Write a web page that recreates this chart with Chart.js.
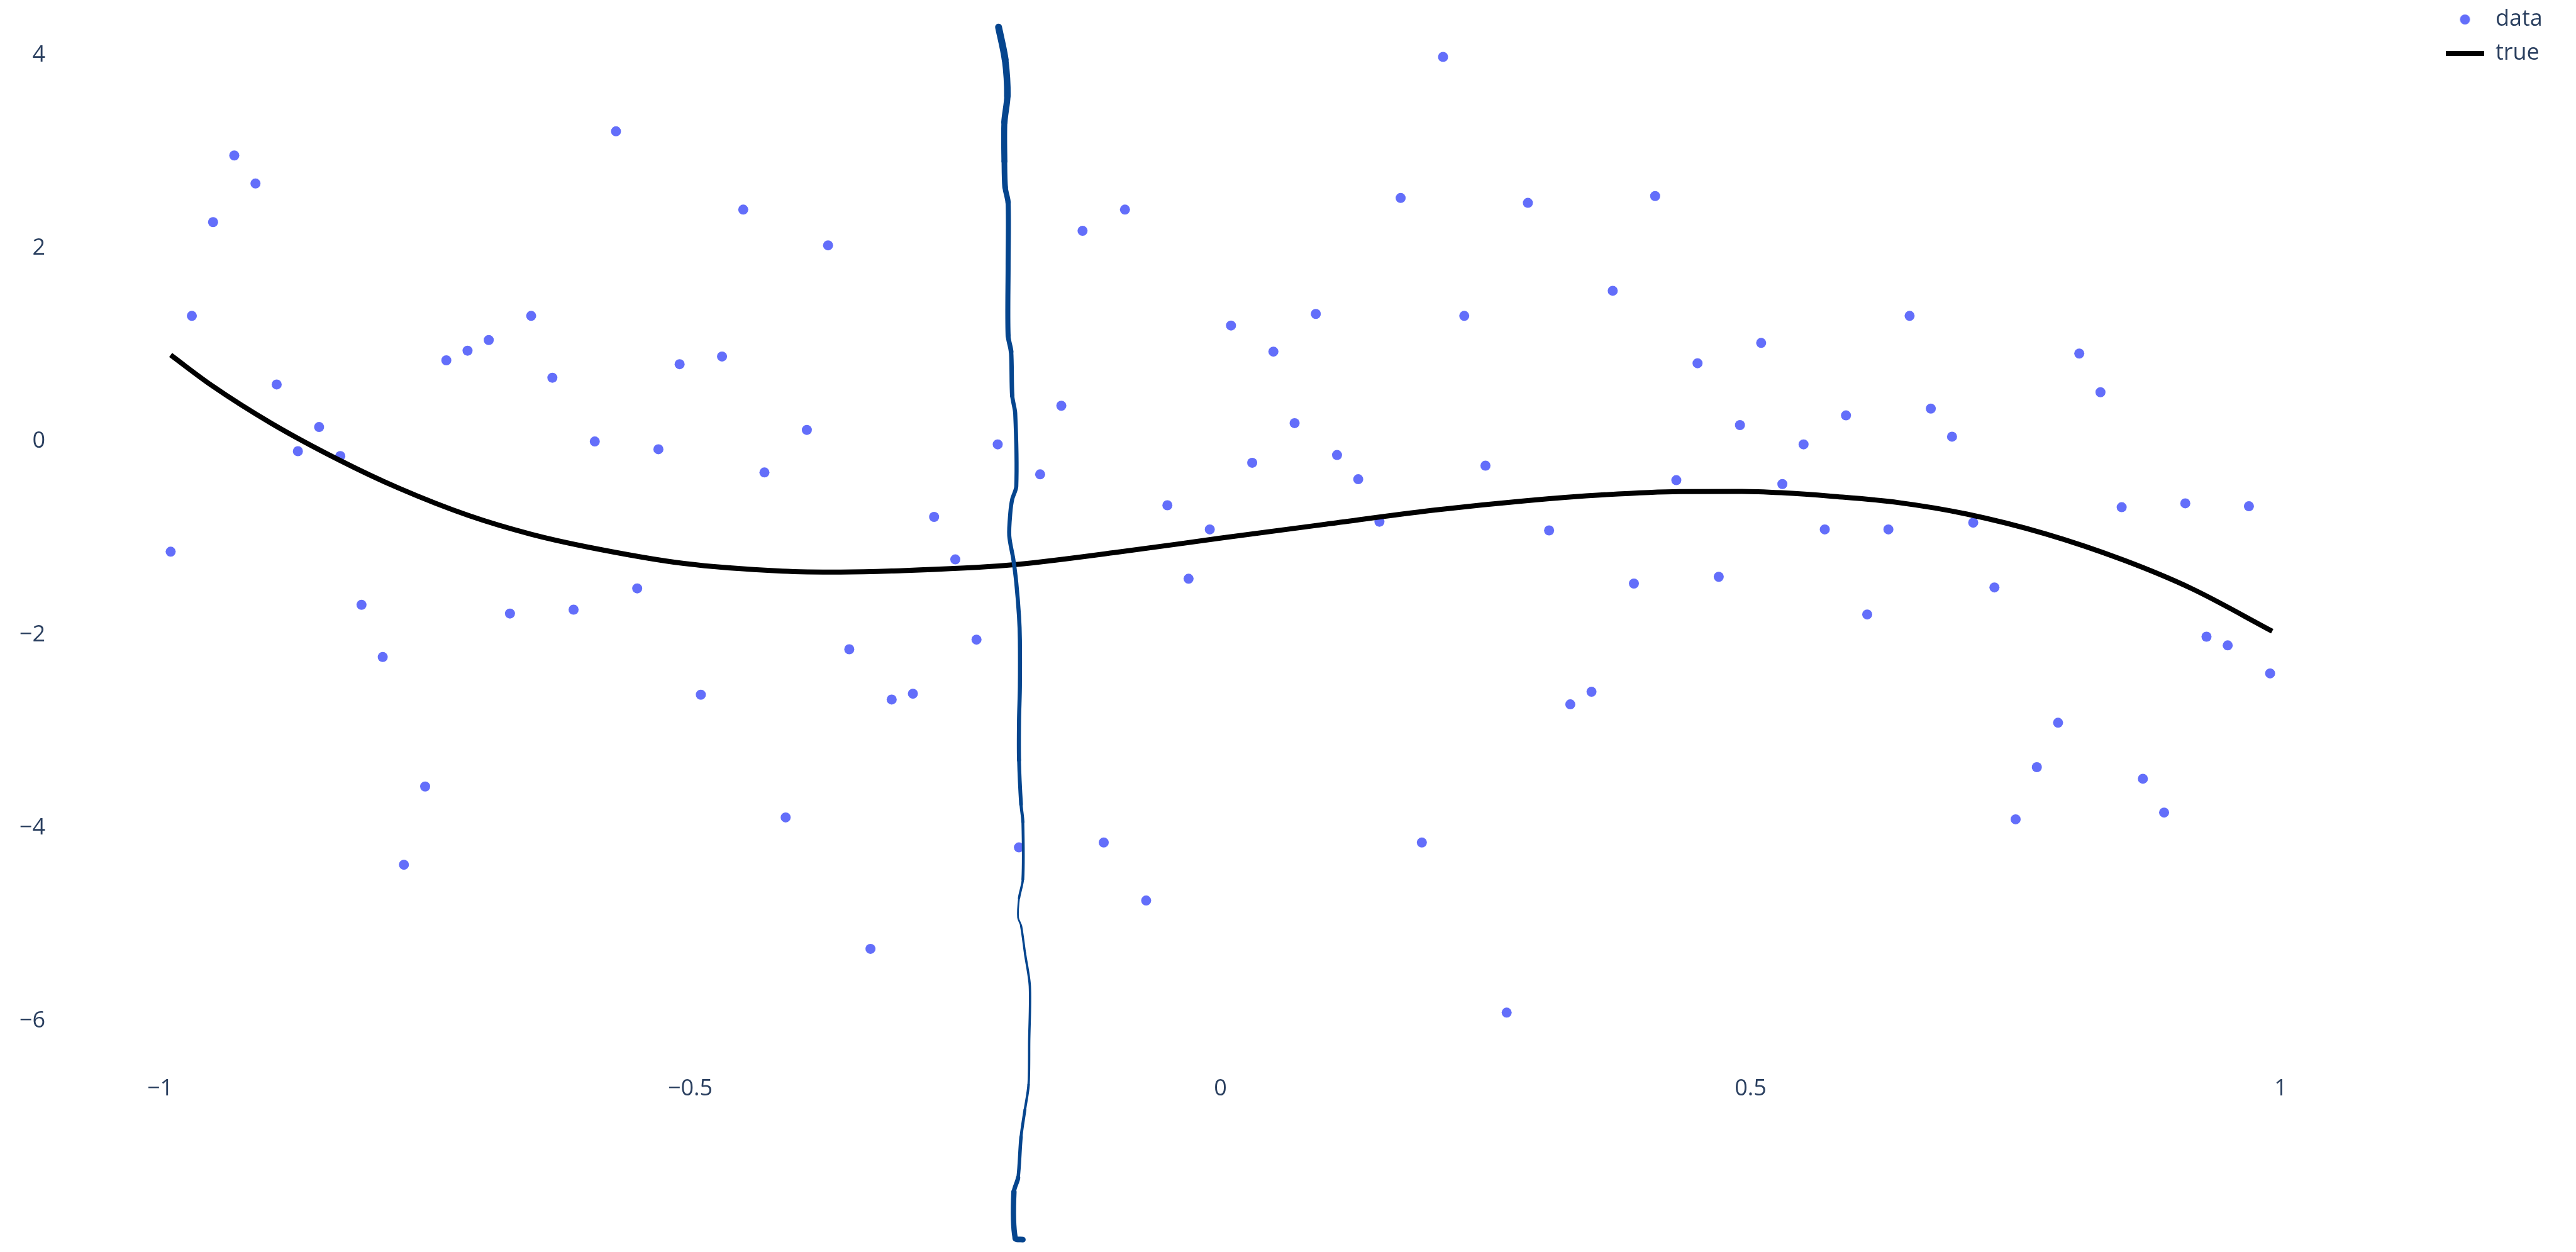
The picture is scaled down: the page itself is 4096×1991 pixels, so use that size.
<!DOCTYPE html>
<html>
<head>
<meta charset="utf-8">
<script src="https://cdn.jsdelivr.net/npm/chart.js@4.4.1/dist/chart.umd.min.js"></script>
<style>
  html, body { margin: 0; padding: 0; background: #fff; }
  #wrap { width: 4096px; height: 1991px; position: relative; }
</style>
</head>
<body>
<div id="wrap"><canvas id="chart"></canvas></div>
<script>
// noisy samples
const xData = [
  -0.99, -0.97, -0.95, -0.93, -0.91, -0.89, -0.87, -0.85, -0.83, -0.81,
  -0.79, -0.77, -0.75, -0.73, -0.71, -0.69, -0.67, -0.65, -0.63, -0.61,
  -0.59, -0.57, -0.55, -0.53, -0.51, -0.49, -0.47, -0.45, -0.43, -0.41,
  -0.39, -0.37, -0.35, -0.33, -0.31, -0.29, -0.27, -0.25, -0.23, -0.21,
  -0.19, -0.17, -0.15, -0.13, -0.11, -0.09, -0.07, -0.05, -0.03, -0.01,
  0.01, 0.03, 0.05, 0.07, 0.09, 0.11, 0.13, 0.15, 0.17, 0.19,
  0.21, 0.23, 0.25, 0.27, 0.29, 0.31, 0.33, 0.35, 0.37, 0.39,
  0.41, 0.43, 0.45, 0.47, 0.49, 0.51, 0.53, 0.55, 0.57, 0.59,
  0.61, 0.63, 0.65, 0.67, 0.69, 0.71, 0.73, 0.75, 0.77, 0.79,
  0.81, 0.83, 0.85, 0.87, 0.89, 0.91, 0.93, 0.95, 0.97, 0.99
];
const yData = [
  -1.14, 1.30, 2.27, 2.96, 2.67, 0.59, -0.10, 0.15, -0.15, -1.69,
  -2.23, -4.38, -3.57, 0.84, 0.94, 1.05, -1.78, 1.30, 0.66, -1.74,
  0.00, 3.21, -1.52, -0.08, 0.80, -2.62, 0.88, 2.40, -0.32, -3.89,
  0.12, 2.03, -2.15, -5.25, -2.67, -2.61, -0.78, -1.22, -2.05, -0.03,
  -4.20, -0.34, 0.37, 2.18, -4.15, 2.40, -4.75, -0.66, -1.42, -0.91,
  1.20, -0.22, 0.93, 0.19, 1.32, -0.14, -0.39, -0.83, 2.52, -4.15,
  3.98, 1.30, -0.25, -5.91, 2.47, -0.92, -2.72, -2.59, 1.56, -1.47,
  2.54, -0.40, 0.81, -1.40, 0.17, 1.02, -0.44, -0.03, -0.91, 0.27,
  -1.79, -0.91, 1.30, 0.34, 0.05, -0.84, -1.51, -3.91, -3.37, -2.91,
  0.91, 0.51, -0.68, -3.49, -3.84, -0.64, -2.02, -2.11, -0.67, -2.40
];

// underlying curve
const trueX = [-0.99, -0.951, -0.895, -0.831, -0.775, -0.709, -0.65, -0.598, -0.506, -0.413,
  -0.358, -0.31, -0.2, -0.1, 0, 0.1, 0.2, 0.2885, 0.3624, 0.4326,
  0.4918, 0.529, 0.577, 0.64, 0.704, 0.778, 0.852, 0.916, 0.992];
const trueY = [0.895, 0.578, 0.188, -0.192, -0.482, -0.766, -0.96, -1.089, -1.262, -1.341,
  -1.351, -1.340, -1.28, -1.15, -1.0, -0.855, -0.712, -0.612, -0.551, -0.518,
  -0.516, -0.53, -0.567, -0.633, -0.751, -0.955, -1.228, -1.522, -1.963];

// hand drawn stroke on top
const penX = [-0.2092, -0.2030, -0.2009, -0.2037, -0.2037, -0.2030, -0.2002, -0.2002, -0.2002, -0.1974,
  -0.1963, -0.1935, -0.1925, -0.1963, -0.1981, -0.1991, -0.1953, -0.1925, -0.1899, -0.1891,
  -0.1891, -0.1899, -0.1899, -0.1880, -0.1863, -0.1863, -0.1899, -0.1908, -0.1880, -0.1843,
  -0.1797, -0.1803, -0.1809, -0.1843, -0.1880, -0.1908, -0.1947, -0.1935, -0.1863];
const penY = [4.288, 3.951, 3.576, 3.304, 2.900, 2.631, 2.470, 1.824, 1.095, 0.931,
  0.472, 0.291, -0.464, -0.597, -0.736, -0.976, -1.218, -1.460, -1.810, -2.052,
  -2.541, -2.892, -3.296, -3.755, -3.936, -4.531, -4.726, -4.926, -5.010, -5.294,
  -5.638, -6.203, -6.657, -6.912, -7.196, -7.619, -7.763, -8.244, -8.259];
const penWidths = [11, 10.5, 10, 9.5, 9, 8.5, 8, 8, 7.5, 7,
  6.5, 6.5, 6.5, 6.5, 6.5, 6.5, 6.5, 6.5, 6.5, 6.5,
  6.5, 6.5, 6, 5, 4.5, 3.7, 2.8, 2.8, 3.5, 3.7,
  3.7, 3.7, 4, 4.7, 5.5, 7, 8.5, 9, 9];

const xTicks = [-1, -0.5, 0, 0.5, 1];
const yTicks = [-6, -4, -2, 0, 2, 4];

const textColor = '#2a3f5f';
const dotColor = '#636efa';
const fontFamily = "'Open Sans', sans-serif";

const toPoints = (xs, ys) => xs.map((x, i) => ({ x: x, y: ys[i] }));
const fmt = v => (v < 0 ? '\u2212' : '') + Math.abs(v);

// round marker for the legend (the line entry needs a wide box, circles would stretch)
const legendDot = document.createElement('canvas');
legendDot.width = 18;
legendDot.height = 18;
(function () {
    const c = legendDot.getContext('2d');
    c.fillStyle = dotColor;
    c.beginPath();
    c.arc(9, 9, 8, 0, Math.PI * 2);
    c.fill();
})();

const ctx = document.getElementById('chart').getContext('2d');

new Chart(ctx, {
    type: 'scatter',
    data: {
        datasets: [
            {
                label: 'data',
                data: toPoints(xData, yData),
                backgroundColor: dotColor,
                pointBackgroundColor: dotColor,
                pointBorderWidth: 0,
                pointRadius: 8,
                pointHoverRadius: 8,
                pointStyle: 'circle',
                order: 1
            },
            {
                label: 'true',
                data: toPoints(trueX, trueY),
                showLine: true,
                borderColor: '#000000',
                borderWidth: 8,
                cubicInterpolationMode: 'monotone',
                pointRadius: 0,
                pointHoverRadius: 0,
                pointStyle: 'line',
                pointBorderColor: '#000000',
                pointBorderWidth: 8,
                order: 0
            },
            {
                label: 'pen',
                data: toPoints(penX, penY),
                showLine: true,
                borderColor: '#05458e',
                borderWidth: 6,
                tension: 0.3,
                borderCapStyle: 'round',
                borderJoinStyle: 'round',
                pointRadius: 0,
                pointHoverRadius: 0,
                clip: false,
                segment: {
                    borderWidth: c => penWidths[c.p0DataIndex]
                },
                order: -1
            }
        ]
    },
    options: {
        responsive: true,
        maintainAspectRatio: false,
        animation: false,
        devicePixelRatio: 1,
        layout: {
            // the legend sits a bit above the plot top, the chart area itself starts at 0
            padding: { top: -5, right: 55, bottom: 0, left: 0 }
        },
        plugins: {
            legend: {
                position: 'right',
                align: 'start',
                maxWidth: 170,
                labels: {
                    usePointStyle: true,
                    pointStyleWidth: 61,
                    boxHeight: 11.3,
                    padding: 18,
                    color: textColor,
                    font: { family: fontFamily, size: 36 },
                    filter: item => item.text !== 'pen',
                    sort: (a, b) => a.datasetIndex - b.datasetIndex,
                    generateLabels: chart => {
                        const items = Chart.defaults.plugins.legend.labels.generateLabels(chart);
                        items.forEach(it => {
                            if (it.text === 'data') it.pointStyle = legendDot;
                        });
                        return items;
                    }
                }
            },
            tooltip: { enabled: false }
        },
        scales: {
            x: {
                type: 'linear',
                min: -1.09875,
                max: 1.14502,
                grid: { display: false, drawTicks: false },
                border: { display: false },
                ticks: {
                    padding: 14,
                    maxRotation: 0,
                    color: textColor,
                    font: { family: fontFamily, size: 36 },
                    callback: fmt
                },
                afterBuildTicks: s => { s.ticks = xTicks.map(v => ({ value: v })); },
                afterFit: s => {
                    s.height = 295;
                    s.paddingLeft = 0;
                    s.paddingRight = 0;
                }
            },
            y: {
                type: 'linear',
                min: -6.4676,
                max: 4.5168,
                grid: { display: false, drawTicks: false },
                border: { display: false },
                ticks: {
                    padding: 16,
                    color: textColor,
                    font: { family: fontFamily, size: 36 },
                    callback: fmt
                },
                afterBuildTicks: s => { s.ticks = yTicks.map(v => ({ value: v })); },
                afterFit: s => {
                    s.width = 88;
                    s.paddingTop = 0;
                    s.paddingBottom = 0;
                }
            }
        }
    }
});
</script>
</body>
</html>
